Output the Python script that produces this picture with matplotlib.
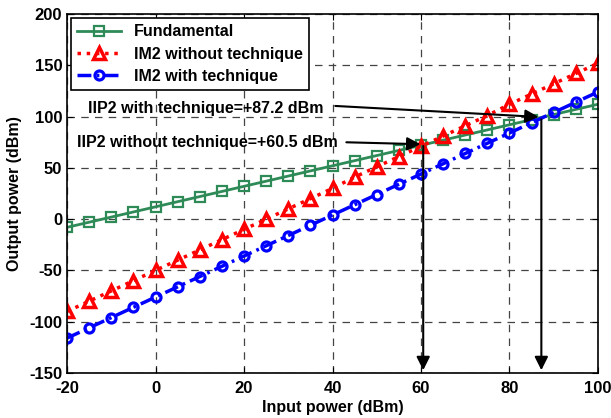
import numpy as np
import matplotlib
matplotlib.use("Agg")
import matplotlib.pyplot as plt

plt.rcParams['font.family'] = ['Liberation Sans', 'DejaVu Sans']
plt.rcParams['font.weight'] = 'bold'
plt.rcParams['axes.unicode_minus'] = False

# dados
p_in = [-20, -15, -10, -5, 0, 5, 10, 15, 20, 25, 30, 35, 40, 45, 50, 55, 60,
        65, 70, 75, 80, 85, 90, 95, 100]
fundamental = [-8, -3, 2, 7, 12, 17, 22, 27, 32, 37, 42, 47, 52, 57, 62, 67,
               72, 77, 82, 87, 92, 97, 102, 107, 112]
im2_sem = [-90, -80, -70, -60, -50, -40, -30, -20, -10, 0, 10, 20, 30, 41, 51,
           61, 71, 81, 91, 101, 112, 122, 132, 142, 152]
im2_com = [-116, -106, -96, -86, -76, -66, -56, -46, -36, -26, -16, -6, 4, 14,
           24, 34, 44, 54, 64, 74, 84, 94, 104, 114, 124]

iip2_sem = 60.5
iip2_com = 87.2

fig = plt.figure(figsize=(6.11, 4.18), dpi=100)
ax = fig.add_axes([0.1097, 0.1077, 0.869, 0.8588])

ax.plot(p_in, fundamental, '-s', color='#2e8b57', lw=2, ms=6.5,
        mfc='none', mew=1.6, label='Fundamental')
ax.plot(p_in, im2_sem, ls=':', marker='^', color='red', lw=2.5, ms=8,
        mfc='none', mew=2.5, label='IM2 without technique')
ax.plot(p_in, im2_com, ls=(0, (4, 1.5, 0.8, 1.5)), marker='o', color='blue',
        lw=2.5, ms=6.5, mfc='none', mew=2.3, label='IM2 with technique')

# setas
seta = dict(arrowstyle='-|>', color='black', lw=1.5, mutation_scale=20)
ax.annotate('', xy=(iip2_sem, 73), xytext=(42.5, 75), arrowprops=seta)
ax.annotate('', xy=(iip2_com, 99.5), xytext=(40, 110.5), arrowprops=seta)
ax.annotate('', xy=(iip2_sem, -150), xytext=(iip2_sem, 74), arrowprops=seta)
ax.annotate('', xy=(iip2_com, -150), xytext=(iip2_com, 100), arrowprops=seta)

ax.text(-15.2, 108, 'IIP2 with technique=+87.2 dBm', fontsize=11.5,
        fontweight='bold', va='center')
ax.text(-17.7, 75, 'IIP2 without technique=+60.5 dBm', fontsize=11.5,
        fontweight='bold', va='center')

ax.set_xlim(-20, 100)
ax.set_ylim(-150, 200)
ax.set_xticks(np.arange(-20, 101, 20))
ax.set_yticks(np.arange(-150, 201, 50))
ax.grid(True, ls=(0, (6, 5)), color='#444444', lw=0.9)
ax.tick_params(labelsize=12, direction='in', length=4, top=True, right=True)
ax.tick_params(axis='x', pad=6)
for l in ax.get_xticklabels() + ax.get_yticklabels():
    l.set_fontweight('bold')
ax.set_xlabel('Input power (dBm)', fontsize=11.5, fontweight='bold', labelpad=3)
ax.set_ylabel('Output power (dBm)', fontsize=11.5, fontweight='bold', labelpad=5)
for s in ax.spines.values():
    s.set_linewidth(1.2)

leg = ax.legend(loc='upper left', fontsize=11.5, fancybox=False,
                edgecolor='black', framealpha=1, borderaxespad=0.25,
                handlelength=2.75, labelspacing=0.45, borderpad=0.4)
leg.get_frame().set_linewidth(1.2)

plt.savefig('out.png', dpi=100)
